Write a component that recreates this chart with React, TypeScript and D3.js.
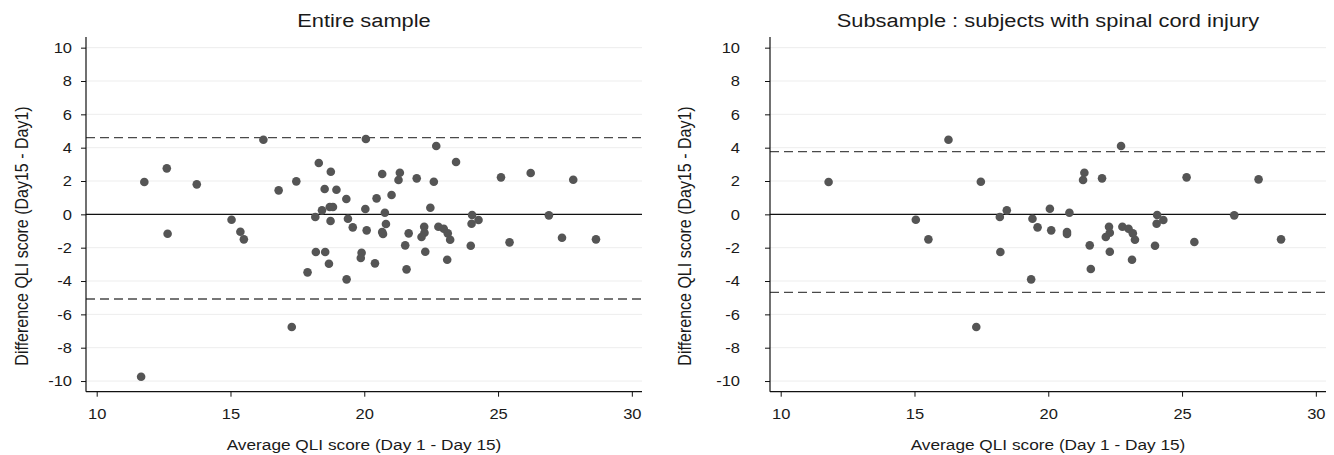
import { useEffect, useRef } from 'react';
import * as d3 from 'd3';

// Bland-Altman data
const entireAvg = [
  11.78, 12.62, 13.74, 16.23, 16.8, 12.65, 15.04, 15.37, 15.5, 11.66,
  17.46, 18.3, 18.75, 18.52, 18.96, 19.33, 18.42, 18.71, 18.83, 18.17,
  18.74, 19.39, 19.57, 20.04, 20.09, 20.06, 20.46, 20.67, 20.77, 20.81,
  20.67, 20.7, 21.02, 21.33, 21.28, 21.96, 22.6, 22.69, 23.43, 22.47,
  21.66, 21.53, 21.58, 22.24, 22.25, 22.14, 22.28, 22.77, 22.97, 23.12,
  23.21, 23.1, 18.19, 18.54, 18.68, 17.88, 19.34, 19.9, 19.87, 20.4,
  17.29, 25.11, 26.22, 27.81, 24.03, 24.01, 24.27, 26.9, 27.39, 28.66,
  25.43, 23.98,
];
const entireDiff = [
  1.94, 2.76, 1.8, 4.48, 1.44, -1.16, -0.32, -1.04, -1.5, -9.74,
  1.98, 3.08, 2.56, 1.52, 1.48, 0.92, 0.24, 0.44, 0.44, -0.16,
  -0.4, -0.26, -0.78, 0.32, -0.96, 4.52, 0.96, 2.42, 0.1, -0.58,
  -1.06, -1.18, 1.16, 2.5, 2.06, 2.16, 1.96, 4.1, 3.14, 0.4,
  -1.14, -1.86, -3.3, -0.74, -1.1, -1.36, -2.24, -0.74, -0.86, -1.14,
  -1.52, -2.72, -2.26, -2.26, -2.96, -3.48, -3.9, -2.3, -2.62, -2.94,
  -6.76, 2.22, 2.48, 2.08, -0.04, -0.56, -0.34, -0.06, -1.4, -1.5,
  -1.68, -1.88,
];
const sciAvg = [
  11.79, 16.27, 17.48, 18.45, 18.19, 15.05, 15.52, 18.21, 17.31, 22.72,
  21.35, 21.3, 22.01, 25.17, 27.86, 19.41, 19.6, 20.06, 20.11, 20.79,
  20.7, 20.7, 21.55, 21.59, 22.27, 22.3, 22.15, 22.3, 22.77, 23.0,
  23.16, 23.24, 23.13, 19.36, 24.07, 24.05, 24.3, 23.99, 25.46, 26.95,
  28.7,
];
const sciDiff = [
  1.94, 4.48, 1.96, 0.24, -0.16, -0.32, -1.5, -2.26, -6.76, 4.1,
  2.5, 2.06, 2.16, 2.22, 2.1, -0.26, -0.78, 0.34, -0.96, 0.1,
  -1.06, -1.18, -1.86, -3.28, -0.74, -1.1, -1.36, -2.24, -0.74, -0.86,
  -1.14, -1.52, -2.72, -3.9, -0.04, -0.56, -0.34, -1.88, -1.66, -0.06,
  -1.5,
];
const entireLimits = [4.6, -5.08];
const sciLimits = [3.76, -4.68];
const xTicks = [10, 15, 20, 25, 30];
const yTicks = [-10, -8, -6, -4, -2, 0, 2, 4, 6, 8, 10];
const titles = ['Entire sample', 'Subsample : subjects with spinal cord injury'];
const xTitle = 'Average QLI score (Day 1 - Day 15)';
const yTitle = 'Difference QLI score (Day15 - Day1)';

const FONT = '"Liberation Sans", Arial, Helvetica, sans-serif';
const SX = 1.15; // the source image is a little wider than its type

export default function App() {
  const svgRef = useRef(null);

  useEffect(() => {
    const svg = d3.select(svgRef.current);
    svg.selectAll('*').remove();
    const top = 37;
    const bottom = 391.7;

    const panels = [
      { left: 86, right: 642, avg: entireAvg, diff: entireDiff, lim: entireLimits, title: titles[0], labGap: 14, yTitleX: 27.5 },
      { left: 770, right: 1326, avg: sciAvg, diff: sciDiff, lim: sciLimits, title: titles[1], labGap: 30, yTitleX: 691 },
    ];

    const y = d3.scaleLinear().domain([-10.64, 10.64]).range([bottom, top]);

    panels.forEach((p) => {
      const x = d3.scaleLinear().domain([9.6, 30.38]).range([p.left, p.right]);
      const g = svg.append('g');
      const cx = (p.left + p.right) / 2;

      // grid
      g.selectAll('line.grid')
        .data(yTicks)
        .join('line')
        .attr('x1', p.left)
        .attr('x2', p.right)
        .attr('y1', (d) => y(d))
        .attr('y2', (d) => y(d))
        .attr('stroke', '#ededed')
        .attr('stroke-width', 1);

      // zero line and limits of agreement
      g.append('line')
        .attr('x1', p.left).attr('x2', p.right)
        .attr('y1', y(0)).attr('y2', y(0))
        .attr('stroke', '#111').attr('stroke-width', 1.1);
      g.selectAll('line.lim')
        .data(p.lim)
        .join('line')
        .attr('x1', p.left).attr('x2', p.right)
        .attr('y1', (d) => y(d)).attr('y2', (d) => y(d))
        .attr('stroke', '#4a4a4a').attr('stroke-width', 1.3)
        .attr('stroke-dasharray', '9,5');

      // points
      g.selectAll('circle')
        .data(p.avg.map((a, i) => [a, p.diff[i]]))
        .join('circle')
        .attr('cx', (d) => x(d[0]))
        .attr('cy', (d) => y(d[1]))
        .attr('r', 4.3)
        .attr('fill', '#555');

      // axes
      const ya = g.append('g')
        .attr('transform', `translate(${p.left},0)`)
        .call(d3.axisLeft(y).tickValues(yTicks).tickSize(5).tickSizeOuter(0).tickFormat((d) => String(d)));
      ya.select('.domain').attr('d', `M0,${top}V${bottom}`).attr('stroke', '#111').attr('stroke-width', 1.2);
      ya.selectAll('.tick line').attr('stroke', '#111');
      ya.selectAll('.tick text')
        .attr('x', null)
        .attr('transform', `translate(${-p.labGap},0) scale(1.1,1)`)
        .attr('font-family', FONT)
        .attr('font-size', 15)
        .attr('fill', '#1a1a1a');

      const xa = g.append('g')
        .attr('transform', `translate(0,${bottom})`)
        .call(d3.axisBottom(x).tickValues(xTicks).tickSize(5).tickSizeOuter(0).tickPadding(12));
      xa.select('.domain').attr('d', `M${p.left},0H${p.right}`).attr('stroke', '#111').attr('stroke-width', 1.2);
      xa.selectAll('.tick line').attr('stroke', '#111');
      xa.selectAll('.tick text')
        .attr('transform', 'scale(1.1,1)')
        .attr('font-family', FONT)
        .attr('font-size', 15)
        .attr('fill', '#1a1a1a');

      // titles
      g.append('text')
        .attr('transform', `translate(${cx},27) scale(${SX},1)`)
        .attr('text-anchor', 'middle')
        .attr('font-family', FONT)
        .attr('font-size', 19)
        .attr('fill', '#1a1a1a')
        .text(p.title);
      g.append('text')
        .attr('transform', `translate(${cx},450) scale(${SX},1)`)
        .attr('text-anchor', 'middle')
        .attr('font-family', FONT)
        .attr('font-size', 15)
        .attr('fill', '#1a1a1a')
        .text(xTitle);
      g.append('text')
        .attr('transform', `translate(${p.yTitleX},236) scale(${SX},1) rotate(-90)`)
        .attr('text-anchor', 'middle')
        .attr('font-family', FONT)
        .attr('font-size', 16)
        .attr('fill', '#1a1a1a')
        .text(yTitle);
    });
  }, []);

  return (
    <svg
      ref={svgRef}
      width={1334}
      height={455}
      style={{ position: 'absolute', left: 0, top: 0, background: '#fff' }}
    ></svg>
  );
}
